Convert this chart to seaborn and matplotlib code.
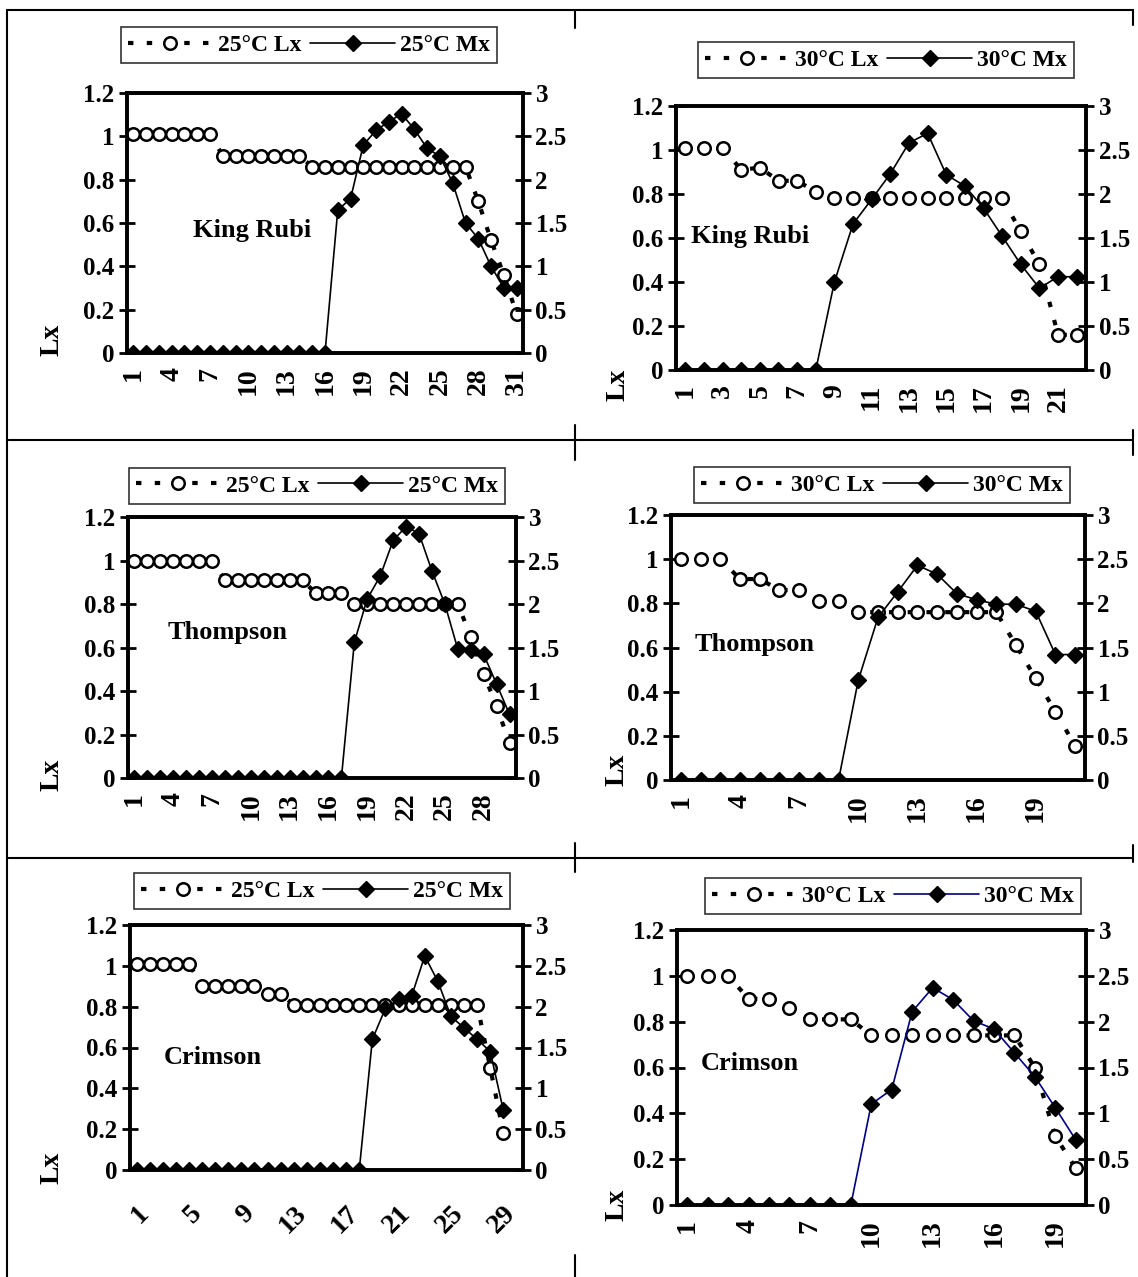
import seaborn as sns
import matplotlib.pyplot as plt
import numpy as np
import pandas as pd
from matplotlib.lines import Line2D

sns.set_theme(style="white")
plt.rcParams['font.family'] = ['Liberation Serif', 'DejaVu Serif']
plt.rcParams['font.weight'] = 'bold'
plt.rcParams['text.color'] = 'black'
plt.rcParams['xtick.color'] = 'black'
plt.rcParams['ytick.color'] = 'black'
plt.rcParams['axes.labelcolor'] = 'black'

W, H = 1138, 1277

# ---- data ----
king25_lx = [1.01, 1.01, 1.01, 1.01, 1.01, 1.01, 1.01, 0.91, 0.91, 0.91, 0.91, 0.91, 0.91, 0.91,
             0.86, 0.86, 0.86, 0.86, 0.86, 0.86, 0.86, 0.86, 0.86, 0.86, 0.86, 0.86, 0.86,
             0.70, 0.52, 0.36, 0.18]
king25_mx = [0, 0, 0, 0, 0, 0, 0, 0, 0, 0, 0, 0, 0, 0, 0, 0,
             1.65, 1.78, 2.40, 2.57, 2.67, 2.76, 2.58, 2.36, 2.27, 1.96, 1.50, 1.32, 1.00, 0.75, 0.75]

king30_lx = [1.01, 1.01, 1.01, 0.91, 0.92, 0.86, 0.86, 0.81, 0.78, 0.78, 0.78, 0.78, 0.78,
             0.78, 0.78, 0.78, 0.78, 0.78, 0.63, 0.48, 0.16, 0.16]
king30_mx = [0, 0, 0, 0, 0, 0, 0, 0, 1.00, 1.66, 1.94, 2.23, 2.58, 2.69, 2.22, 2.09, 1.84,
             1.52, 1.20, 0.93, 1.06, 1.06]

thom25_lx = [1.0, 1.0, 1.0, 1.0, 1.0, 1.0, 1.0, 0.91, 0.91, 0.91, 0.91, 0.91, 0.91, 0.91,
             0.85, 0.85, 0.85, 0.80, 0.80, 0.80, 0.80, 0.80, 0.80, 0.80, 0.80, 0.80,
             0.65, 0.48, 0.33, 0.16]
thom25_mx = [0, 0, 0, 0, 0, 0, 0, 0, 0, 0, 0, 0, 0, 0, 0, 0, 0,
             1.56, 2.06, 2.32, 2.73, 2.89, 2.81, 2.38, 2.00, 1.48, 1.47, 1.42, 1.08, 0.73]

thom30_lx = [1.0, 1.0, 1.0, 0.91, 0.91, 0.86, 0.86, 0.81, 0.81, 0.76, 0.76, 0.76, 0.76,
             0.76, 0.76, 0.76, 0.76, 0.61, 0.46, 0.31, 0.155]
thom30_mx = [0, 0, 0, 0, 0, 0, 0, 0, 0, 1.13, 1.84, 2.13, 2.43, 2.33, 2.11, 2.04, 1.99,
             1.99, 1.91, 1.42, 1.42]

crim25_lx = [1.01, 1.01, 1.01, 1.01, 1.01, 0.90, 0.90, 0.90, 0.90, 0.90, 0.86, 0.86,
             0.81, 0.81, 0.81, 0.81, 0.81, 0.81, 0.81, 0.81, 0.81, 0.81, 0.81, 0.81, 0.81,
             0.81, 0.81, 0.50, 0.18]
crim25_mx = [0, 0, 0, 0, 0, 0, 0, 0, 0, 0, 0, 0, 0, 0, 0, 0, 0, 0,
             1.60, 1.98, 2.09, 2.13, 2.62, 2.31, 1.88, 1.74, 1.60, 1.45, 0.73]

crim30_lx = [1.0, 1.0, 1.0, 0.90, 0.90, 0.86, 0.81, 0.81, 0.81, 0.74, 0.74, 0.74, 0.74,
             0.74, 0.74, 0.74, 0.74, 0.60, 0.30, 0.16]
crim30_mx = [0, 0, 0, 0, 0, 0, 0, 0, 0, 1.10, 1.26, 2.11, 2.37, 2.24, 2.01, 1.92, 1.66,
             1.40, 1.06, 0.71]

lx_ticks = [0, 0.2, 0.4, 0.6, 0.8, 1.0, 1.2]
mx_ticks = [0, 0.5, 1.0, 1.5, 2.0, 2.5, 3.0]

# name, temp, lx, mx, n categories, label step, rotation, mx line colour
panels = [
    ("King Rubi", "25", king25_lx, king25_mx, 31, 3, 90, "black"),
    ("King Rubi", "30", king30_lx, king30_mx, 22, 2, 90, "black"),
    ("Thompson", "25", thom25_lx, thom25_mx, 30, 3, 90, "black"),
    ("Thompson", "30", thom30_lx, thom30_mx, 21, 3, 90, "black"),
    ("Crimson", "25", crim25_lx, crim25_mx, 30, 4, 45, "black"),
    ("Crimson", "30", crim30_lx, crim30_mx, 20, 3, 90, "#000080"),
]

# pixel boxes: plot area (L, R, T, B), legend centre, name centre, "Lx" centre
plot_px = [(127, 523, 93, 353), (676, 1086, 106, 370), (128, 516, 517, 778),
           (671, 1085, 515, 780), (130, 523, 925, 1170), (677, 1086, 930, 1205)]
legend_px = [(309, 45), (886, 60), (317, 486), (882, 485), (322, 891), (893, 896)]
name_px = [(252, 230), (750, 237), (228, 633), (755, 645), (213, 1057), (750, 1063)]
lxlab_px = [(52, 340), (618, 385), (52, 775), (617, 770), (52, 1168), (617, 1205)]

fig = plt.figure(figsize=(W / 100, H / 100), dpi=100)
fig.patch.set_facecolor('white')

# table grid lines behind the charts
def seg(x0, y0, x1, y1):
    fig.add_artist(Line2D([x0 / W, x1 / W], [1 - y0 / H, 1 - y1 / H], color='black', lw=1.5))

seg(7, 10, 1133, 10)
seg(7, 440, 1133, 440)
seg(7, 858, 1133, 858)
seg(7, 10, 7, 1277)
for y0, y1 in [(10, 28), (425, 460), (843, 872), (1255, 1277)]:
    seg(575, y0, 575, y1)
for y0, y1 in [(10, 25), (430, 455), (845, 862)]:
    seg(1133, y0, 1133, y1)

fs = 18
xfs = 20
for i, (name, temp, lx, mx, ncat, step, rot, mcol) in enumerate(panels):
    L, R, T, B = plot_px[i]
    ax = fig.add_axes([L / W, 1 - B / H, (R - L) / W, (B - T) / H])
    ax2 = ax.twinx()
    x = np.arange(1, len(lx) + 1)
    df = pd.DataFrame({'day': x, 'Lx': lx, 'Mx': mx})

    sns.lineplot(data=df, x='day', y='Lx', ax=ax, color='black', linewidth=3.0,
                 linestyle=(0, (1.3, 3.2)), marker='o', markersize=9,
                 markerfacecolor='white', markeredgecolor='black', markeredgewidth=1.8,
                 label=f"{temp}°C Lx", legend=False)
    sns.lineplot(data=df, x='day', y='Mx', ax=ax2, color=mcol, linewidth=1.2,
                 marker='D', markersize=8.5, markerfacecolor='black', markeredgecolor='black',
                 markeredgewidth=1, label=f"{temp}°C Mx", legend=False)

    for a in (ax, ax2):
        a.set_xlim(0.5, ncat + 0.5)
        a.set_xlabel('')
        a.set_ylabel('')
        a.set_facecolor('none')
        for s in a.spines.values():
            s.set_color('black')
            s.set_linewidth(2.6)
    ax.set_ylim(0, 1.2)
    ax2.set_ylim(0, 3)
    ax.set_yticks(lx_ticks)
    ax.set_yticklabels([f"{v:g}" for v in lx_ticks], fontsize=fs, fontweight='bold')
    ax2.set_yticks(mx_ticks)
    ax2.set_yticklabels([f"{v:g}" for v in mx_ticks], fontsize=fs, fontweight='bold')
    ax.tick_params(axis='y', direction='inout', length=12, width=2, pad=3, colors='black')
    ax2.tick_params(axis='y', direction='inout', length=12, width=2, pad=3, colors='black')

    xt = list(range(1, ncat + 1, step))
    ax.set_xticks(xt)
    if rot == 45:
        ax.set_xticklabels([str(v) for v in xt], fontsize=xfs, fontweight='bold',
                           rotation=45, ha='right', rotation_mode='anchor')
    else:
        ax.set_xticklabels([str(v) for v in xt], fontsize=xfs, fontweight='bold', rotation=90)
    ax.set_xticks(np.arange(0.5, ncat + 1, 1.0), minor=True)
    ax.tick_params(axis='x', which='major', length=0, pad=10 if rot == 90 else 22)
    ax.tick_params(axis='x', which='minor', direction='out', length=10, width=1.6, colors='black')
    ax2.tick_params(axis='x', length=0)

    fig.text(name_px[i][0] / W, 1 - name_px[i][1] / H, name, fontsize=fs + 1,
             fontweight='bold', ha='center', va='center', color='black')
    fig.text(lxlab_px[i][0] / W, 1 - lxlab_px[i][1] / H, 'Lx', fontsize=fs + 2,
             fontweight='bold', ha='center', va='center', rotation=90, color='black')

    h1, l1 = ax.get_legend_handles_labels()
    h2, l2 = ax2.get_legend_handles_labels()
    leg = fig.legend(h1 + h2, l1 + l2, loc='center',
                     bbox_to_anchor=(legend_px[i][0] / W, 1 - legend_px[i][1] / H),
                     ncol=2, frameon=True, fancybox=False, edgecolor='black',
                     fontsize=fs - 1, handlelength=3.6, handletextpad=0.2, columnspacing=0.4,
                     borderpad=0.3, numpoints=1)
    leg.get_frame().set_linewidth(1.2)
    for t in leg.get_texts():
        t.set_fontweight('bold')
        t.set_color('black')

fig.savefig('out.png', dpi=100, facecolor='white')
